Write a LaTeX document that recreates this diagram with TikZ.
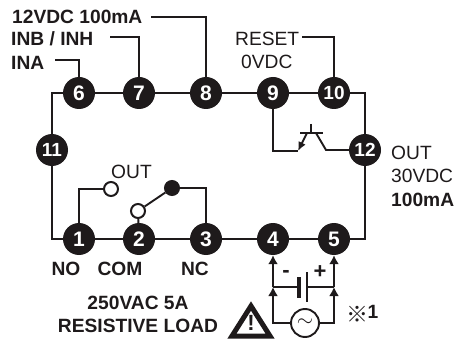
\documentclass[tikz,border=0pt]{standalone}
\usepackage{fontspec}
\setmainfont{Liberation Sans}
\newfontfamily\cjkfont{Noto Sans CJK SC}
\usetikzlibrary{arrows.meta,calc,positioning}
\definecolor{ink}{HTML}{1E1A1B}
\tikzset{
  pin/.style={circle, fill=ink, text=white, inner sep=0pt, minimum size=32pt, font=\fontsize{21}{21}\selectfont\bfseries},
  pinwide/.style={pin, font=\fontsize{19}{19}\selectfont\bfseries},
  lab/.style={inner sep=0pt, text=ink, font=\fontsize{19.2}{20}\selectfont\bfseries},
  labthin/.style={inner sep=0pt, text=ink, font=\fontsize{19.2}{20}\selectfont},
  frame/.style={draw=ink, line width=2.8pt},
  wire/.style={draw=ink, line width=1.9pt},
  contact/.style={circle, draw=ink, line width=2pt, fill=white, inner sep=0pt, minimum size=14pt},
  sink/.style={-{Latex[length=9pt,width=10pt]}, draw=ink, line width=1.9pt}
}
\begin{document}
\begin{tikzpicture}[x=1pt, y=-1pt]
      \useasboundingbox (0,0) rectangle (455,339);

      \node[pin] (p6) at (79, 93) {6};
      \node[pin] (p7) at (139, 93) {7};
      \node[pin] (p8) at (206, 93) {8};
      \node[pin] (p9) at (273, 93) {9};
      \node[pinwide] (p10) at (334, 93) {10};
      \node[pinwide] (p11) at (52, 150) {11};
      \node[pinwide] (p12) at (365, 150) {12};
      \node[pin] (p1) at (79, 239) {1};
      \node[pin] (p2) at (139, 239) {2};
      \node[pin] (p3) at (206, 239) {3};
      \node[pin] (p4) at (273, 239) {4};
      \node[pin] (p5) at (334, 239) {5};

      % outer frame
      \draw[frame] (p6) -- (p7);
      \draw[frame] (p7) -- (p8);
      \draw[frame] (p8) -- (p9);
      \draw[frame] (p9) -- (p10);
      \draw[frame] (p10) -| (p12);
      \draw[frame] (p12) |- (p5);
      \draw[frame] (p4) -- (p5);
      \draw[frame] (p3) -- (p4);
      \draw[frame] (p2) -- (p3);
      \draw[frame] (p1) -- (p2);
      \draw[frame] (p11) |- (p6);
      \draw[frame] (p11) |- (p1);

      % top labels
      \node[lab, anchor=west] (lpower) at (12, 17) {12VDC 100mA};
      \node[lab, anchor=west] (linb) at (11, 39) {INB / INH};
      \node[lab, anchor=west] (lina) at (11, 63) {INA};
      \node[labthin, anchor=west] (lreset) at (235, 39) {RESET};
      \node[labthin, anchor=west] (lzero) at (241, 62) {0VDC};
      \coordinate (cpower) at (151, 17);
      \coordinate (cinb) at (110, 37);
      \coordinate (cina) at (55, 60);
      \coordinate (creset) at (302, 37);
      \draw[wire] (cpower) -| (p8);
      \draw[wire] (cinb) -| (p7);
      \draw[wire] (cina) -| (p6);
      \draw[wire] (creset) -| (p10);

      % transistor
      \coordinate (tbase) at (298, 151);
      \coordinate (tcoll) at (326, 150);
      \coordinate (tbarl) at (300, 133);
      \coordinate (tbarr) at (323, 133);
      \coordinate (tstem) at (311, 124);
      \coordinate (tstemb) at (311, 133);
      \coordinate (temit) at (307, 133);
      \coordinate (tcolt) at (316, 133);
      \draw[wire] (p9) |- (tbase);
      \draw[wire] (tbarl) -- (tbarr);
      \draw[wire] (tstem) -- (tstemb);
      \draw[wire, -{Latex[length=9pt,width=8pt]}] (temit) -- (tbase);
      \draw[wire] (tcolt) -- (tcoll) -- (p12);

      \node[labthin, anchor=west] (lout) at (391, 153) {OUT};
      \node[labthin, anchor=west] (lvdc) at (391, 176) {30VDC};
      \node[lab, anchor=west] (lma) at (391, 200) {100mA};

      % relay
      \node[contact] (copen) at (111, 189) {};
      \node[contact] (ccom) at (138, 211) {};
      \node[contact, fill=ink] (cclosed) at (172, 188) {};
      \node[labthin, anchor=west] (lrelay) at (111, 172) {OUT};
      \draw[wire] (p1) |- (copen);
      \draw[wire] (p2) -- (ccom);
      \draw[wire] (ccom) -- (cclosed);
      \draw[wire] (cclosed) -| (p3);

      \node[lab] (lno) at (66, 269) {NO};
      \node[lab] (lcom) at (120, 269) {COM};
      \node[lab] (lnc) at (195, 269) {NC};
      \node[lab] (lrate) at (138, 303) {250VAC 5A};
      \node[lab] (lload) at (138, 326) {RESISTIVE LOAD};

      % supply
      \node[circle, draw=ink, line width=1.9pt, fill=white, inner sep=0pt, minimum size=28pt] (ac) at (305, 323) {};
      \node[inner sep=0pt, text=ink, scale=2.1] (acw) at (305, 323) {$\sim$};
      \coordinate (dl) at (273, 287);
      \coordinate (dr) at (334, 287);
      \coordinate (bigt) at (299, 277);
      \coordinate (bigb) at (299, 298);
      \coordinate (smlt) at (307, 272);
      \coordinate (smlb) at (307, 302);
      \draw[sink] (dl) -- (p4);
      \draw[sink] (dr) -- (p5);
      \draw[sink] (ac) -| (dl);
      \draw[sink] (ac) -| (dr);
      \draw[wire] (dl) -- (bigt |- dl);
      \draw[wire] (smlt |- dr) -- (dr);
      \draw[draw=ink, line width=4.5pt] (bigt) -- (bigb);
      \draw[wire] (smlt) -- (smlb);
      \node[lab, font=\fontsize{22}{22}\selectfont\bfseries] (lminus) at (286, 274) {-};
      \node[lab, font=\fontsize{22}{22}\selectfont\bfseries] (lplus) at (320, 272) {+};
      \node[inner sep=0pt, text=ink, font=\cjkfont\fontsize{22}{22}\selectfont] (lnote) at (357, 314) {※};
      \node[lab] (lone) at (373, 312) {1};

      % warning sign
      \draw[draw=ink, line width=5pt, line join=miter, fill=white] (251, 306) -- (270, 336) -- (232, 336) -- cycle;
      \node[inner sep=0pt, text=ink, font=\fontsize{22}{22}\selectfont\bfseries] (lwarn) at (251, 323) {!};
    \end{tikzpicture}
\end{document}
